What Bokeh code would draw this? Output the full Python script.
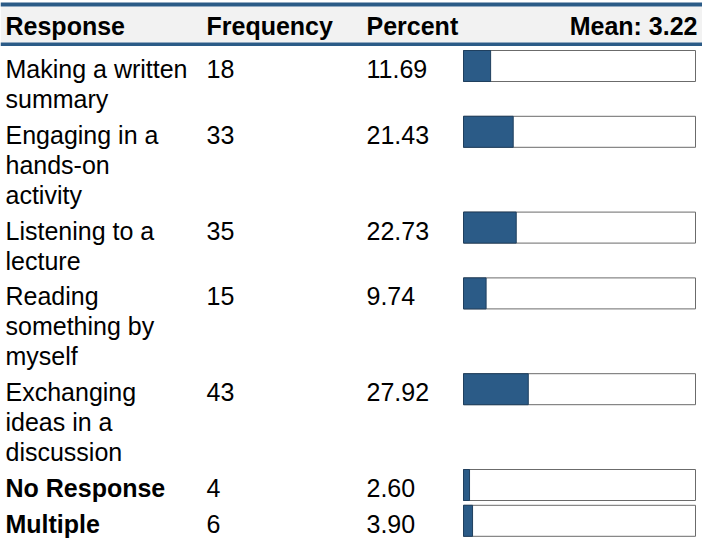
from bokeh.plotting import figure
from bokeh.models import Range1d, ColumnDataSource
from bokeh.core.properties import value
from bokeh.embed import file_html
from bokeh.resources import INLINE

# ---- data ----
headers = ["Response", "Frequency", "Percent"]
mean_value = 3.22
responses = [
    "Making a written\nsummary",
    "Engaging in a\nhands-on\nactivity",
    "Listening to a\nlecture",
    "Reading\nsomething by\nmyself",
    "Exchanging\nideas in a\ndiscussion",
    "No Response",
    "Multiple",
]
bold_rows = [False, False, False, False, False, True, True]
frequency = [18, 33, 35, 15, 43, 4, 6]
percent = [11.69, 21.43, 22.73, 9.74, 27.92, 2.60, 3.90]

# ---- layout (reference pixel units) ----
FONT = value("Liberation Sans")
FS = "25px"
LINE = 30.0
PAD = 5.8
ROW0 = 50.0
BAR_H = 31.0
BASE_OFF = 26.5
TEXT_SHIFT = -8.0
COL_X = [5, 206, 366]
BAR_X0 = 463.0
BAR_W = 232.0
BLUE = "#2b5b87"

p = figure(width=702, height=538, output_backend="svg", toolbar_location=None,
           x_range=Range1d(0, 702), y_range=Range1d(538, 0),
           min_border=0, outline_line_color=None)
p.axis.visible = False
p.grid.visible = False
p.background_fill_color = "white"
p.border_fill_color = "white"

# header band
p.quad(left=[0], right=[702], top=[6], bottom=[42], fill_color="#f2f2f2", line_color=None)
p.quad(left=[0, 0], right=[702, 702], top=[2, 42], bottom=[6, 45.5], fill_color=BLUE, line_color=None)

hy = 33 + TEXT_SHIFT
p.text(x=COL_X, y=[hy] * 3, text=headers, text_font=FONT, text_font_size=FS,
       text_font_style="bold", text_baseline="alphabetic", text_align="left", text_color="black")
p.text(x=[697], y=[hy], text=[f"Mean: {mean_value:.2f}"], text_font=FONT, text_font_size=FS,
       text_font_style="bold", text_baseline="alphabetic", text_align="right", text_color="black")

# rows
row_tops = []
t = ROW0
for r in responses:
    row_tops.append(t)
    t += LINE * len(r.split("\n")) + PAD

norm = dict(x=[], y=[], text=[])
bold = dict(x=[], y=[], text=[])
for i, r in enumerate(responses):
    tgt = bold if bold_rows[i] else norm
    y0 = row_tops[i] + BASE_OFF + TEXT_SHIFT
    for j, ln in enumerate(r.split("\n")):
        tgt["x"].append(COL_X[0])
        tgt["y"].append(y0 + j * LINE)
        tgt["text"].append(ln)
    norm["x"] += [COL_X[1], COL_X[2]]
    norm["y"] += [y0] * 2
    norm["text"] += [str(frequency[i]), f"{percent[i]:.2f}"]

for d, style in ((norm, "normal"), (bold, "bold")):
    p.text(x="x", y="y", text="text", source=ColumnDataSource(d), text_font=FONT,
           text_font_size=FS, text_font_style=style, text_baseline="alphabetic",
           text_align="left", text_color="black")

bars = ColumnDataSource(dict(
    top=row_tops,
    bottom=[rt + BAR_H for rt in row_tops],
    left=[BAR_X0] * len(percent),
    full=[BAR_X0 + BAR_W] * len(percent),
    right=[BAR_X0 + BAR_W * v / 100.0 for v in percent],
))
p.quad(left="left", right="full", top="top", bottom="bottom", source=bars,
       fill_color="white", line_color="#6b6b6b", line_width=1)
p.quad(left="left", right="right", top="top", bottom="bottom", source=bars,
       fill_color=BLUE, line_color="#1f3f5e", line_width=1)

open("out.html", "w").write(file_html(p, INLINE))
